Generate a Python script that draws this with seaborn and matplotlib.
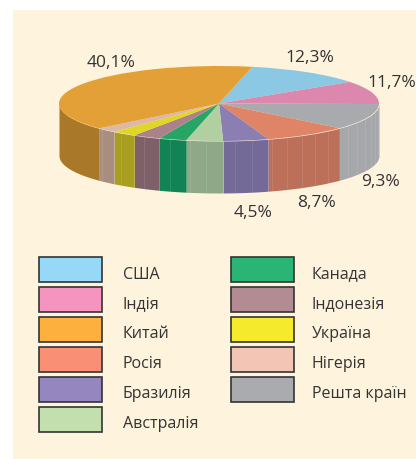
import matplotlib
matplotlib.use("Agg")
import matplotlib.pyplot as plt
from matplotlib.patches import Patch, Rectangle
import numpy as np
import seaborn as sns

# order around the pie, clockwise from the top
countries = ["США", "Індія", "Решта країн", "Росія", "Бразилія", "Австралія",
             "Канада", "Індонезія", "Україна", "Нігерія", "Китай"]
# share of the circle each slice takes in the picture (not the same as the printed labels)
drawn_shares = [11.9, 10.0, 11.2, 8.6, 4.55, 3.7, 2.8, 2.8, 2.5, 2.1, 39.85]
top_colors = ["#8AC8E4", "#DC87AE", "#A9AAAE", "#E08468", "#8A7EB2", "#B2CFA2",
              "#27A566", "#AB8289", "#E0D625", "#DDB8A8", "#E3A037"]
wall_colors = ["#7FB3CC", "#C0407F", "#A5A7AB", "#BC705A", "#736A98", "#8FA888",
               "#128355", "#7D6068", "#A99E20", "#A98E80", "#A97828"]

# printed labels
label_texts = ["12,3%", "11,7%", "9,3%", "8,7%", "4,5%", "40,1%"]

legend_names = ["США", "Індія", "Китай", "Росія", "Бразилія", "Австралія",
                "Канада", "Індонезія", "Україна", "Нігерія", "Решта країн"]
legend_colors = ["#96D9F7", "#F595BF", "#FDB03E", "#F98F74", "#9686BF", "#C3DFAE",
                 "#2AB574", "#B38C93", "#F5EA2C", "#F2C5B4", "#AAABAE"]

W, H = 416, 460
FONT = "Open Sans"
TEXT_COLOR = "#333333"

sns.set_theme(style="white")
plt.rcParams["font.family"] = FONT

fig = plt.figure(figsize=(W / 100, H / 100), dpi=100, facecolor="white")

# pixel axes for the panel and the labels
bg = fig.add_axes([0, 0, 1, 1])
bg.set_xlim(0, W)
bg.set_ylim(H, 0)
bg.axis("off")
bg.add_patch(Rectangle((13, 11), W - 13, H - 11, facecolor="#FEF3DD", edgecolor="none"))

# pie axes: one data unit is the ellipse radius, walls hang below
cx, cy, rx, ry, depth = 219, 104.5, 160, 37.5, 52
ax = fig.add_axes([(cx - rx) / W, 1 - (cy + ry + depth) / H, 2 * rx / W, (2 * ry + depth) / H])
ax.patch.set_alpha(0)

wall = depth / ry
start = 78
edges = start - np.cumsum([0] + drawn_shares) / sum(drawn_shares) * 360

for i, color in enumerate(wall_colors):
    t = np.radians(np.linspace(edges[i], edges[i + 1], 200))
    t = t[np.sin(t) <= 0.01]
    if len(t):
        ax.fill_between(np.cos(t), np.sin(t), np.sin(t) - wall, color=color, lw=0)
        # pale seams across the wall, the source has them too (not on the big slice)
        if countries[i] != "Китай":
            seams = t[::max(1, int(len(t) * 6 / max(1, abs(np.degrees(t[-1] - t[0])))))]
            ax.vlines(np.cos(seams), np.sin(seams), np.sin(seams) - wall,
                      color="white", lw=0.5, alpha=0.14)

ax.pie(drawn_shares, colors=top_colors, startangle=start, counterclock=False, radius=1,
       wedgeprops={"linewidth": 0})
ax.set_aspect("auto")
ax.set_xlim(-1, 1)
ax.set_ylim(-1 - wall, 1)
ax.axis("off")

# percent labels
label_x = [310, 392, 380, 317, 253, 111]
label_y = [58, 83, 182, 203, 213, 63]
for text, x, y in zip(label_texts, label_x, label_y):
    bg.text(x, y, text, ha="center", va="center", fontsize=12.5, color=TEXT_COLOR, zorder=5)

handles = [Patch(facecolor=c, edgecolor="#333333", linewidth=1.2) for c in legend_colors]
leg = fig.legend(handles, legend_names, loc="upper left", bbox_to_anchor=(39 / W, 1 - 258 / H),
                 ncols=2, frameon=False, borderpad=0, borderaxespad=0, fontsize=11.5,
                 handlelength=3.94, handleheight=2.03, labelspacing=0.31,
                 handletextpad=1.3, columnspacing=2.06, labelcolor=TEXT_COLOR)
# legend text sits a little below the swatch centre in the reference,
# and the second column is a bit closer to its swatches
for n, t in enumerate(leg.get_texts()):
    t.set_y(-3)
    if n >= 6:
        t.set_x(-3)

fig.savefig("out.png", dpi=100)
